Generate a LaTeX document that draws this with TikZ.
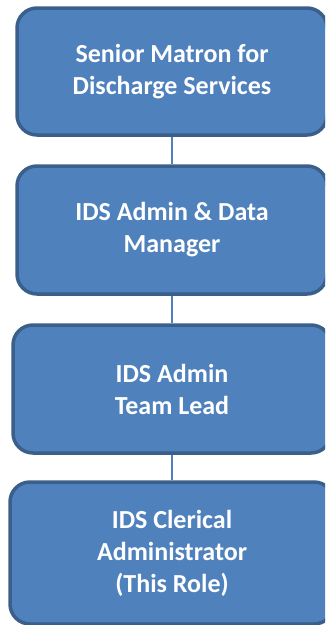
\documentclass[tikz,border=0pt]{standalone}
\usepackage{fontspec}
\setmainfont{Carlito}
\definecolor{boxfill}{HTML}{4F81BD}
\definecolor{boxedge}{HTML}{3A5F8B}
\begin{document}
\begin{tikzpicture}[x=1pt,y=1pt,
    rolebox/.style={draw=boxedge,fill=boxfill,line width=3.5pt,rounded corners=20pt,
        text=white,font=\fontsize{26}{32}\selectfont\bfseries,align=center,inner sep=0pt},
    link/.style={boxfill,line width=1.5pt}]
    	        % Frame
    	        \useasboundingbox (0,0) rectangle (325,-625);
    	        \clip (0,0) rectangle (325,-625);
    	        % Boxes
    	        \node[rolebox,minimum width=310pt,minimum height=127pt] (matron) at (172,-71.5) {Senior Matron for\\Discharge Services};
    	        \node[rolebox,minimum width=310pt,minimum height=128pt] (manager) at (172,-230) {IDS Admin \& Data\\Manager};
    	        \node[rolebox,minimum width=318pt,minimum height=128pt] (lead) at (172,-389) {IDS Admin\\Team Lead};
    	        \node[rolebox,minimum width=324pt,minimum height=142pt] (clerical) at (172,-553) {IDS Clerical\\Administrator\\(This Role)};
    	        % Links
    	        \draw[link] (matron) -- (manager);
    	        \draw[link] (manager) -- (lead);
    	        \draw[link] (lead) -- (clerical);
    	    \end{tikzpicture}
\end{document}
